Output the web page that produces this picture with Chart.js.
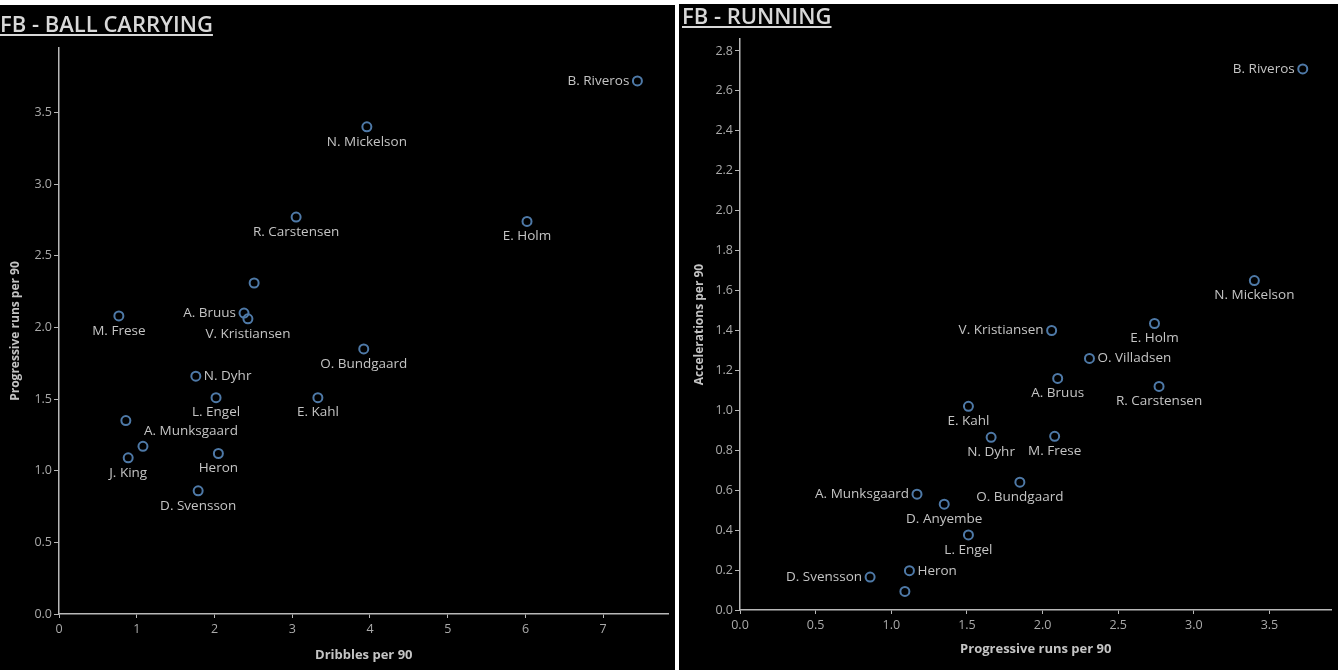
<!DOCTYPE html>
<html>
<head>
<meta charset="utf-8">
<script src="https://cdn.jsdelivr.net/npm/chart.js@4.4.1/dist/chart.umd.min.js"></script>
<style>
  html, body { margin: 0; padding: 0; background: #fff; }
  body { width: 1338px; height: 670px; position: relative; overflow: hidden; }
  .panel { position: absolute; background: #000; }
  .title {
    position: absolute; color: #d8d8d8; font-family: "Open Sans", sans-serif;
    font-weight: 600; font-size: 22px; text-decoration: underline; text-underline-offset: 2px;
    white-space: nowrap; z-index: 2;
  }
  canvas { position: absolute; left: 0; top: 0; }
</style>
</head>
<body>
<div class="panel" id="leftPanel" style="left:0;top:5px;width:675px;height:665px;">
  <canvas id="carryChart"></canvas>
  <div class="title" style="left:0;top:3px;">FB - BALL CARRYING</div>
</div>
<div class="panel" id="rightPanel" style="left:679px;top:4px;width:659px;height:666px;">
  <canvas id="runChart"></canvas>
  <div class="title" style="left:3px;top:-4px;">FB - RUNNING</div>
</div>
<script>
// players and their per-90 numbers
const players = ["B. Riveros", "N. Mickelson", "R. Carstensen", "E. Holm", "O. Villadsen", "A. Bruus",
  "V. Kristiansen", "M. Frese", "O. Bundgaard", "N. Dyhr", "L. Engel", "E. Kahl", "D. Anyembe",
  "A. Munksgaard", "J. King", "Heron", "D. Svensson"];
const progRuns = [3.72, 3.40, 2.77, 2.74, 2.31, 2.10, 2.06, 2.08, 1.85, 1.66, 1.51, 1.51, 1.35, 1.17, 1.09, 1.12, 0.86];
const dribbles = [7.44, 3.96, 3.05, 6.02, 2.51, 2.38, 2.43, 0.77, 3.92, 1.76, 2.02, 3.33, 0.86, 1.08, 0.89, 2.05, 1.79];
const accels = [2.71, 1.65, 1.12, 1.435, 1.26, 1.16, 1.40, 0.87, 0.64, 0.865, 0.376, 1.02, 0.53, 0.58, 0.093, 0.197, 0.165];

const carryXTicks = [0, 1, 2, 3, 4, 5, 6, 7];
const carryYTicks = [0, 0.5, 1, 1.5, 2, 2.5, 3, 3.5];
const runXTicks = [0, 0.5, 1, 1.5, 2, 2.5, 3, 3.5];
const runYTicks = [0, 0.2, 0.4, 0.6, 0.8, 1, 1.2, 1.4, 1.6, 1.8, 2, 2.2, 2.4, 2.6, 2.8];

// where each name goes relative to its point
const carryLabelPos = ["left", "below", "below", "below", "none", "left", "below", "below", "below",
  "right", "below", "below", "none", "upright", "below", "below", "below"];
const runLabelPos = ["left", "below", "below", "below", "right", "below", "left", "below", "below",
  "below", "below", "below", "below", "left", "none", "right", "left"];

const FONT = "'Open Sans', sans-serif";
const DOT = "#4e79a7";
const TXT = "#c4c4c4";
const AXIS = "#b8b8b8";

const nameLabels = {
  id: "nameLabels",
  afterDatasetsDraw(chart, args, opts) {
    const ctx = chart.ctx;
    const pts = chart.getDatasetMeta(0).data;
    ctx.save();
    ctx.font = "13.5px " + FONT;
    ctx.fillStyle = TXT;
    ctx.textBaseline = "middle";
    pts.forEach((p, i) => {
      const pos = opts.pos[i];
      if (pos === "none") return;
      let x = p.x, y = p.y;
      if (pos === "below") { ctx.textAlign = "center"; y += 15; }
      else if (pos === "left") { ctx.textAlign = "right"; x -= 8; }
      else if (pos === "right") { ctx.textAlign = "left"; x += 8; }
      else if (pos === "upright") { ctx.textAlign = "left"; x += 1; y -= 15; }
      ctx.fillText(players[i], x, y);
    });
    ctx.restore();
  }
};

function fixedTicks(list) {
  return scale => { scale.ticks = list.map(v => ({ value: v })); };
}

function makeScatter(id, w, h, xs, ys, o) {
  const c = document.getElementById(id);
  c.width = w; c.height = h;
  c.style.width = w + "px"; c.style.height = h + "px";
  return new Chart(c, {
    type: "scatter",
    data: {
      datasets: [{
        data: xs.map((x, i) => ({ x: x, y: ys[i] })),
        pointRadius: 4.5,
        pointBorderWidth: 2,
        pointBorderColor: DOT,
        pointBackgroundColor: "rgba(0,0,0,0)"
      }]
    },
    options: {
      responsive: false,
      animation: false,
      layout: { padding: { top: o.top, right: 0, left: 0, bottom: 0 } },
      plugins: {
        legend: { display: false },
        tooltip: { enabled: false },
        nameLabels: { pos: o.labels }
      },
      scales: {
        x: {
          min: 0, max: o.xMax,
          afterBuildTicks: fixedTicks(o.xTicks),
          afterFit: s => { s.height = o.xH; },
          grid: { drawOnChartArea: false, color: AXIS, tickLength: 4, tickColor: AXIS },
          border: { color: AXIS, width: 1.5 },
          ticks: { color: "#aaa", font: { family: FONT, size: 12.5 }, padding: 4,
                   callback: v => o.xFmt(v) },
          title: { display: true, text: o.xTitle, color: TXT,
                   font: { family: FONT, size: 13, weight: "bold" },
                   padding: { top: 0, bottom: o.xTitlePad } }
        },
        y: {
          min: 0, max: o.yMax,
          afterBuildTicks: fixedTicks(o.yTicks),
          afterFit: s => { s.width = o.yW; },
          grid: { drawOnChartArea: false, color: AXIS, tickLength: 5, tickColor: AXIS },
          border: { color: AXIS, width: 1.5 },
          ticks: { color: "#aaa", font: { family: FONT, size: 12.5 }, padding: 2,
                   callback: v => v.toFixed(1) },
          title: { display: true, text: o.yTitle, color: TXT,
                   font: { family: FONT, size: 12, weight: "bold" },
                   padding: { top: o.yTitlePad, bottom: 0 } }
        }
      }
    },
    plugins: [nameLabels]
  });
}

makeScatter("carryChart", 675, 665, dribbles, progRuns, {
  top: 43, xH: 56, yW: 59, xMax: 7.84, yMax: 3.95,
  xTicks: carryXTicks, yTicks: carryYTicks, xFmt: v => String(v),
  xTitle: "Dribbles per 90", yTitle: "Progressive runs per 90",
  xTitlePad: 7, yTitlePad: 8, labels: carryLabelPos
});

makeScatter("runChart", 659, 666, progRuns, accels, {
  top: 35, xH: 60, yW: 61, xMax: 3.91, yMax: 2.86,
  xTicks: runXTicks, yTicks: runYTicks, xFmt: v => v.toFixed(1),
  xTitle: "Progressive runs per 90", yTitle: "Accelerations per 90",
  xTitlePad: 13, yTitlePad: 13, labels: runLabelPos
});
</script>
</body>
</html>
